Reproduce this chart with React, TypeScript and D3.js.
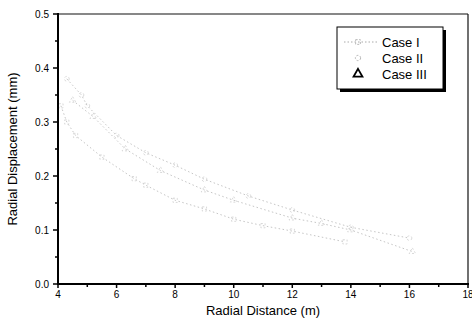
import { useMemo } from "react";
import { scaleLinear, line, range, symbol, symbolSquare, symbolCircle, symbolTriangle } from "d3";

const WIDTH = 472;
const HEIGHT = 325;
const MARGIN = { top: 14, right: 4, bottom: 41, left: 58 };

// radial distance (m) / radial displacement (mm)
const caseIX = [4.1, 4.3, 4.6, 5.5, 6.6, 7.0, 8.0, 9.0, 10.0, 11.0, 12.0, 13.8];
const caseIY = [0.33, 0.3, 0.275, 0.235, 0.195, 0.183, 0.155, 0.139, 0.12, 0.108, 0.098, 0.078];
const caseIIX = [4.3, 4.8, 5.0, 6.0, 7.0, 8.0, 9.0, 10.5, 12.0, 14.0, 16.0];
const caseIIY = [0.38, 0.35, 0.33, 0.275, 0.243, 0.22, 0.194, 0.163, 0.137, 0.105, 0.085];
const caseIIIX = [4.5, 5.2, 6.3, 7.5, 9.0, 10.0, 12.0, 13.0, 14.0, 16.1];
const caseIIIY = [0.34, 0.31, 0.25, 0.21, 0.174, 0.155, 0.122, 0.112, 0.1, 0.06];

const xTicks = [4, 6, 8, 10, 12, 14, 16, 18];
const yTicks = [0.0, 0.1, 0.2, 0.3, 0.4, 0.5];
const legendLabels = ["Case I", "Case II", "Case III"];

const FONT = "'Liberation Sans', Arial, sans-serif";

const series = [
  { name: legendLabels[0], xs: caseIX, ys: caseIY, shape: symbolSquare },
  { name: legendLabels[1], xs: caseIIX, ys: caseIIY, shape: symbolCircle },
  { name: legendLabels[2], xs: caseIIIX, ys: caseIIIY, shape: symbolTriangle },
];

export default function App() {
  const x = useMemo(() => scaleLinear().domain([4, 18]).range([MARGIN.left, WIDTH - MARGIN.right]), []);
  const y = useMemo(() => scaleLinear().domain([0, 0.5]).range([HEIGHT - MARGIN.bottom, MARGIN.top]), []);
  const x0 = x(4);
  const x1 = x(18);
  const y0 = y(0);
  const y1 = y(0.5);

  const path = line<[number, number]>()
    .x((d) => x(d[0]))
    .y((d) => y(d[1]));

  const minorX = range(5, 18, 2);
  const minorY = range(0.05, 0.5, 0.1);

  return (
    <div style={{ position: "absolute", left: 0, top: 0 }}>
      <svg width={WIDTH} height={HEIGHT} style={{ display: "block", background: "#fff" }} fontFamily={FONT}>
        {/* data - the scan is very faded, so keep it light */}
        {series.map((s) => {
          const pts = s.xs.map((v, i) => [v, s.ys[i]] as [number, number]);
          return (
            <g key={s.name}>
              <path d={path(pts) ?? ""} fill="none" stroke="#c6c6c6" strokeWidth={1} strokeDasharray="1.5,2.5" />
              {pts.map((p, i) => (
                <path
                  key={i}
                  transform={`translate(${x(p[0])},${y(p[1])})`}
                  d={symbol(s.shape, 18)() ?? ""}
                  fill="none"
                  stroke="#cfcfcf"
                  strokeWidth={0.8}
                  strokeDasharray="2,2"
                />
              ))}
            </g>
          );
        })}

        {/* frame */}
        <line x1={x0} x2={x1} y1={y1} y2={y1} stroke="#111" strokeWidth={1.2} />
        <line x1={x1} x2={x1} y1={y1} y2={y0} stroke="#111" strokeWidth={1.2} />
        <line x1={x0} x2={x0} y1={y1 - 1} y2={y0 + 1} stroke="#000" strokeWidth={2} />
        <line x1={x0 - 1} x2={x1 + 1} y1={y0} y2={y0} stroke="#000" strokeWidth={2} />

        {/* x axis */}
        {xTicks.map((t) => (
          <g key={t}>
            <line x1={x(t)} x2={x(t)} y1={y0} y2={y0 + 4} stroke="#000" strokeWidth={1.5} />
            <text x={x(t)} y={y0 + 14} textAnchor="middle" fontSize={10} fill="#000">
              {t}
            </text>
          </g>
        ))}
        {minorX.map((t) => (
          <line key={t} x1={x(t)} x2={x(t)} y1={y0} y2={y0 + 3} stroke="#000" strokeWidth={1.5} />
        ))}

        {/* y axis */}
        {yTicks.map((t) => (
          <g key={t}>
            <line x1={x0 - 5} x2={x0} y1={y(t)} y2={y(t)} stroke="#000" strokeWidth={1.5} />
            <text x={x0 - 9} y={y(t) + 3.5} textAnchor="end" fontSize={10} fill="#000">
              {t.toFixed(1)}
            </text>
          </g>
        ))}
        {minorY.map((t) => (
          <line key={t} x1={x0 - 3} x2={x0} y1={y(t)} y2={y(t)} stroke="#000" strokeWidth={1.5} />
        ))}

        <text x={(x0 + x1) / 2} y={HEIGHT - 10} textAnchor="middle" fontSize={13} fill="#000">
          Radial Distance (m)
        </text>
        <text
          transform={`translate(17,${(y0 + y1) / 2}) rotate(-90)`}
          textAnchor="middle"
          fontSize={13}
          fill="#000"
        >
          Radial Displacement (mm)
        </text>

        {/* legend with drop shadow */}
        <g>
          <rect x={340} y={30} width={106} height={62} fill="#000" />
          <rect x={337} y={27} width={106} height={62} fill="#fff" stroke="#000" strokeWidth={1} />
          {series.map((s, i) => {
            const ly = 42 + i * 16;
            const strong = i === 2;
            return (
              <g key={s.name}>
                {i === 0 && (
                  <line x1={344} x2={378} y1={ly} y2={ly} stroke="#aaa" strokeWidth={1} strokeDasharray="1.5,2" />
                )}
                <path
                  transform={`translate(358,${ly})`}
                  d={symbol(s.shape, strong ? 34 : 22)() ?? ""}
                  fill="none"
                  stroke={strong ? "#000" : "#b0b0b0"}
                  strokeWidth={strong ? 1.8 : 0.9}
                  strokeDasharray={strong ? undefined : "2,1.5"}
                />
                <text x={382} y={ly + 4.5} fontSize={13} fill="#000">
                  {s.name}
                </text>
              </g>
            );
          })}
        </g>
      </svg>
    </div>
  );
}
